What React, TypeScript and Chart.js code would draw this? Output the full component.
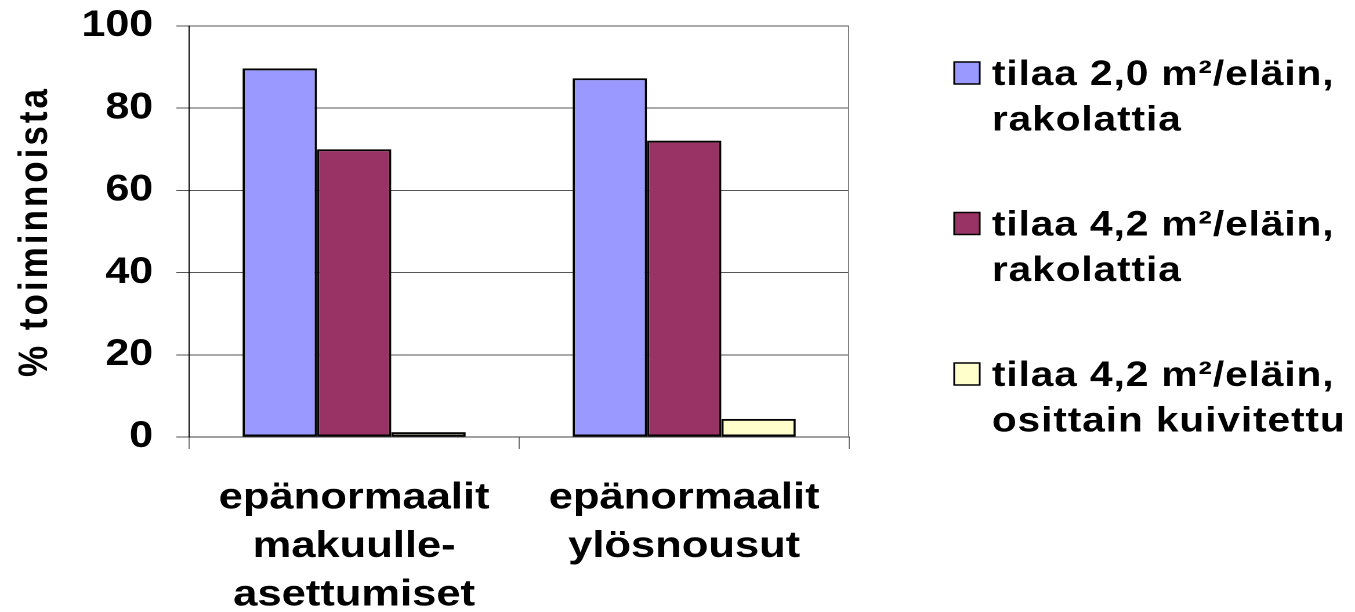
import React, { useEffect, useRef } from "react";
import { Chart, registerables } from "chart.js";

Chart.register(...registerables);

const categories = [
  ["epänormaalit", "makuulle-", "asettumiset"],
  ["epänormaalit", "ylösnousut"],
];
const seriesNames = [
  ["tilaa 2,0 m²/eläin,", "rakolattia"],
  ["tilaa 4,2 m²/eläin,", "rakolattia"],
  ["tilaa 4,2 m²/eläin,", "osittain kuivitettu"],
];
const series1 = [89.7, 87.3];
const series2 = [70.0, 72.1];
const series3 = [1.2, 4.4];
const seriesColors = ["#9999FF", "#993366", "#FFFFCC"];
const yMin = 0;
const yMax = 100;
const yStep = 20;
const yTitle = "% toiminnoista";

const FONT = '"Liberation Sans", Arial, Helvetica, sans-serif';

// the reference is rendered slightly stretched horizontally
const OUT_W = 1355;
const OUT_H = 612;
const INNER_W = 1168;

const decorPlugin = {
  id: "decor",
  beforeDraw(chart: any) {
    chart.ctx.letterSpacing = "0px";
    const sc = chart.scales.y;
    if (sc && !sc.__patched) {
      const orig = sc.drawTitle.bind(sc);
      sc.drawTitle = (...args: any[]) => {
        const c = sc.ctx;
        const prev = c.letterSpacing;
        c.letterSpacing = "3px";
        orig(...args);
        c.letterSpacing = prev;
      };
      sc.__patched = true;
    }
  },
  afterDraw(chart: any) {
    const ctx = chart.ctx;
    const { right, top, bottom } = chart.chartArea;
    ctx.save();
    // plot area right border
    ctx.strokeStyle = "#808080";
    ctx.lineWidth = 1;
    ctx.beginPath();
    ctx.moveTo(right - 0.5, top);
    ctx.lineTo(right - 0.5, bottom);
    ctx.stroke();

    // legend
    const boxX = 822.5;
    const boxW = 22;
    const boxH = 22;
    const textX = 855;
    const firstBaseline = 85;
    const itemGap = 150.5;
    const lineGap = 45.5;
    ctx.letterSpacing = "0.8px";
    ctx.font = `bold 35px ${FONT}`;
    ctx.textBaseline = "alphabetic";
    ctx.textAlign = "left";
    seriesNames.forEach((lines, i) => {
      const base = firstBaseline + i * itemGap;
      ctx.fillStyle = seriesColors[i];
      ctx.fillRect(boxX, base - 23, boxW, boxH);
      ctx.strokeStyle = "#000";
      ctx.lineWidth = 1.5;
      ctx.strokeRect(boxX, base - 23, boxW, boxH);
      ctx.fillStyle = "#000";
      lines.forEach((ln, j) => {
        ctx.fillText(ln, textX, base + j * lineGap);
      });
    });
    ctx.restore();
  },
};

export default function App() {
  const canvasRef = useRef<HTMLCanvasElement | null>(null);

  useEffect(() => {
    const canvas = canvasRef.current;
    if (!canvas) return;
    Chart.defaults.font.family = FONT;
    Chart.defaults.color = "#000";
    const datasets = [series1, series2, series3].map((data, i) => ({
      label: seriesNames[i].join(" "),
      data,
      backgroundColor: seriesColors[i],
      borderColor: "#000",
      borderWidth: 2,
      borderSkipped: false as const,
      categoryPercentage: 0.676,
      barPercentage: 1,
    }));
    const chart = new Chart(canvas, {
      type: "bar",
      data: { labels: categories, datasets },
      options: {
        animation: false,
        responsive: false,
        devicePixelRatio: 2,
        layout: { padding: { top: 26, right: 436, bottom: 0, left: 0 } },
        plugins: {
          legend: { display: false },
          tooltip: { enabled: false },
          title: { display: false },
        },
        scales: {
          x: {
            afterFit(scale: any) {
              scale.height = 175;
            },
            grid: {
              offset: true,
              drawOnChartArea: false,
              drawTicks: true,
              tickLength: 12,
              color: "#707070",
            },
            border: { display: true, color: "#404040", width: 1 },
            ticks: {
              autoSkip: false,
              maxRotation: 0,
              minRotation: 0,
              padding: 25,
              color: "#000",
              font: { size: 37.5, weight: "bold", lineHeight: 1.293 },
            },
          },
          y: {
            min: yMin,
            max: yMax,
            afterFit(scale: any) {
              scale.width = 163;
              scale.paddingTop = 0;
              scale.paddingBottom = 0;
            },
            grid: {
              color: "#555",
              lineWidth: 1,
              drawTicks: true,
              tickLength: 11,
            },
            border: { display: true, color: "#000", width: 1 },
            ticks: {
              stepSize: yStep,
              padding: 20,
              color: "#000",
              font: { size: 37, weight: "bold" },
            },
            title: {
              display: true,
              text: yTitle,
              color: "#000",
              padding: { top: 10, bottom: 0 },
              font: { size: 35, weight: "bold", lineHeight: 1.2 },
            },
          },
        },
      },
      plugins: [decorPlugin],
    });
    return () => chart.destroy();
  }, []);

  return (
    <div style={{ position: "fixed", left: 0, top: 0, width: OUT_W, height: OUT_H, background: "#fff" }}>
      <canvas
        ref={canvasRef}
        width={INNER_W}
        height={OUT_H}
        style={{ display: "block", width: `${OUT_W}px`, height: `${OUT_H}px` }}
      />
    </div>
  );
}
